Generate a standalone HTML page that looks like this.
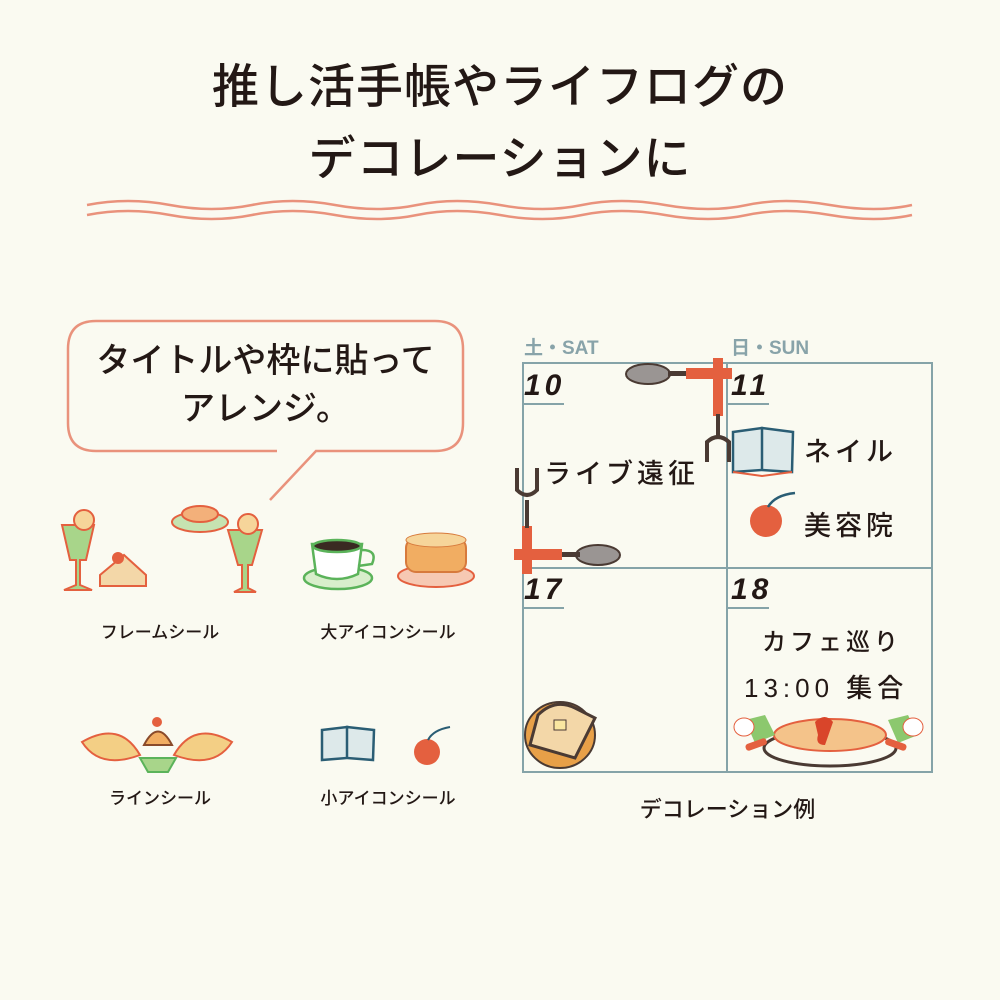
<!DOCTYPE html>
<html><head><meta charset="utf-8"><style>
body{margin:0;background:#fafaf1;}
.p{position:relative;width:1000px;height:1000px;background:#fafaf1;font-family:"Liberation Sans","Noto Sans CJK JP",sans-serif;color:#231815;overflow:hidden}
.t{position:absolute;white-space:nowrap}
.title{left:0;width:1000px;text-align:center;font-size:47px;font-weight:500;letter-spacing:1px}
.lab{font-size:17px;font-weight:500;text-align:center}
.day{font-size:19px;font-weight:bold;color:#88a3a9}
.num{font-size:30px;font-style:italic;font-family:"Liberation Sans",sans-serif;letter-spacing:4px;font-weight:bold}
.hw{font-size:27px;font-weight:500;letter-spacing:4px}
</style></head><body><div class="p">
<div class="t title" style="top:48px">推し活手帳やライフログの</div>
<div class="t title" style="top:120px">デコレーションに</div>
<svg width="1000" height="1000" style="position:absolute;left:0;top:0">
<g fill="none" stroke="#e9927c" stroke-width="2.5">
<path d="M87 205 Q128 197 170 205 T252 205 T335 205 T417 205 T500 205 T582 205 T665 205 T747 205 T830 205 T912 205"/>
<path d="M87 215 Q128 207 170 215 T252 215 T335 215 T417 215 T500 215 T582 215 T665 215 T747 215 T830 215 T912 215"/>
<path d="M277 451 H96 Q68 451 68 423 V349 Q68 321 96 321 H435 Q463 321 463 349 V423 Q463 451 435 451 H316 L270 500"/>
</g>
<g fill="none" stroke="#85a3a8" stroke-width="2">
<rect x="523" y="363" width="409" height="409"/>
<line x1="727" y1="363" x2="727" y2="772"/><line x1="523" y1="568" x2="932" y2="568"/>
<line x1="523" y1="404" x2="564" y2="404"/><line x1="728" y1="404" x2="769" y2="404"/>
<line x1="523" y1="608" x2="564" y2="608"/><line x1="728" y1="608" x2="769" y2="608"/>
</g>
<ellipse cx="648" cy="374" rx="22" ry="10" fill="#9a9593" stroke="#4a3a33" stroke-width="2"/>
<rect x="668" y="371" width="20" height="5" fill="#4a3a33"/>
<rect x="686" y="368" width="46" height="11" fill="#e4603f"/>
<rect x="713" y="358" width="10" height="58" fill="#e4603f"/>
<rect x="716" y="414" width="4" height="24" fill="#4a3a33"/>
<path d="M707 462 V442 Q718 432 729 442 V462" fill="none" stroke="#4a3a33" stroke-width="4"/>
<ellipse cx="598" cy="555" rx="22" ry="10" fill="#9a9593" stroke="#4a3a33" stroke-width="2"/>
<rect x="560" y="552" width="20" height="5" fill="#4a3a33"/>
<rect x="514" y="549" width="48" height="11" fill="#e4603f"/>
<rect x="522" y="526" width="10" height="48" fill="#e4603f"/>
<rect x="525" y="500" width="4" height="28" fill="#4a3a33"/>
<path d="M517 468 V490 Q527 500 537 490 V468" fill="none" stroke="#4a3a33" stroke-width="4"/>
<path d="M733 432 L762 428 L762 470 L733 472 Z M762 428 L793 432 L792 472 L762 470Z" fill="#dde9ea" stroke="#2a5d74" stroke-width="2.5"/>
<path d="M733 472 L762 476 L792 472" fill="none" stroke="#e4603f" stroke-width="2"/>
<circle cx="766" cy="521" r="16" fill="#e4603f"/>
<path d="M768 507 Q775 495 795 493" fill="none" stroke="#2a5d74" stroke-width="2.5"/>
<ellipse cx="560" cy="735" rx="35" ry="33" fill="#e8a048" stroke="#4a3a33" stroke-width="2"/>
<path d="M538 715 Q555 698 575 708 L595 718 L575 758 L530 745Z" fill="#f3d7a8" stroke="#4a3a33" stroke-width="3"/>
<rect x="554" y="720" width="12" height="10" fill="#f9e6a0" stroke="#4a3a33"/>
<ellipse cx="830" cy="748" rx="66" ry="18" fill="none" stroke="#4a3a33" stroke-width="3"/>
<ellipse cx="830" cy="735" rx="56" ry="16" fill="#f4c38a" stroke="#e4603f" stroke-width="2"/>
<path d="M815 722 Q825 712 833 722 L825 745 Q815 745 818 735Z" fill="#d9452a"/>
<path d="M745 720 l20 -5 l10 20 l-20 8z M888 720 l20 -5 l10 20 l-20 8z" fill="#8cc86e"/>
<ellipse cx="744" cy="727" rx="10" ry="9" fill="#fff" stroke="#e4603f"/><ellipse cx="913" cy="727" rx="10" ry="9" fill="#fff" stroke="#e4603f"/>
<rect x="745" y="741" width="22" height="7" rx="3" fill="#e4603f" transform="rotate(-20 756 744)"/>
<rect x="885" y="741" width="22" height="7" rx="3" fill="#e4603f" transform="rotate(20 896 744)"/>
<g stroke="#e4603f" stroke-width="2">
<path d="M62 525 L94 525 L86 560 L80 560 L80 585 L92 590 L64 590 L76 585 L76 560 L70 560Z" fill="#a8d58a"/>
<circle cx="84" cy="520" r="10" fill="#f6d59a"/>
<path d="M100 575 L124 555 L146 575 L146 586 L100 586Z" fill="#f3d7a8"/>
<circle cx="118" cy="558" r="5" fill="#e4603f"/>
<ellipse cx="200" cy="522" rx="28" ry="10" fill="#c6e3b1"/>
<ellipse cx="200" cy="514" rx="18" ry="8" fill="#f3b07a"/>
<path d="M228 530 L262 530 L252 565 L248 565 L248 588 L256 592 L234 592 L242 588 L242 565 L238 565Z" fill="#a8d58a"/>
<circle cx="248" cy="524" r="10" fill="#f6d59a"/>
</g>
<g stroke="#5bb35a" stroke-width="2.5" fill="#fff">
<ellipse cx="338" cy="578" rx="34" ry="11" fill="#d8eecb"/>
<path d="M312 544 L362 544 L358 574 Q337 584 316 574Z"/>
<ellipse cx="337" cy="546" rx="24" ry="6" fill="#3a2a22"/>
<path d="M362 550 Q378 550 372 564 L358 566" fill="none"/>
</g>
<ellipse cx="436" cy="576" rx="38" ry="11" fill="#f6c9b3" stroke="#e4603f" stroke-width="2"/>
<rect x="406" y="538" width="60" height="34" rx="10" fill="#f1ad62" stroke="#d77a3c" stroke-width="2"/>
<ellipse cx="436" cy="540" rx="30" ry="7" fill="#f6d59a" stroke="#d77a3c"/>
<path d="M82 742 Q120 720 140 755 Q100 770 82 742Z M232 742 Q194 720 174 755 Q214 770 232 742Z" fill="#f3cf85" stroke="#e4603f" stroke-width="2"/>
<path d="M140 758 L176 758 L168 772 L148 772Z" fill="#a8d58a" stroke="#5bb35a" stroke-width="2"/>
<path d="M144 745 Q158 718 172 745Z" fill="#f1ad62" stroke="#8a4a2a" stroke-width="2"/>
<circle cx="157" cy="722" r="5" fill="#e4603f"/>
<path d="M322 730 L347 727 L347 758 L322 760Z M347 727 L374 730 L373 760 L347 758Z" fill="#dde9ea" stroke="#2a5d74" stroke-width="2.5"/>
<circle cx="427" cy="752" r="13" fill="#e4603f"/>
<path d="M428 740 Q433 730 450 727" fill="none" stroke="#2a5d74" stroke-width="2"/>
</svg>
<div class="t" style="left:68px;width:395px;text-align:center;top:337px;font-size:34px;font-weight:500;line-height:48px">タイトルや枠に貼って<br>アレンジ。</div>
<div class="t lab" style="left:60px;width:200px;top:618px">フレームシール</div>
<div class="t lab" style="left:288px;width:200px;top:618px">大アイコンシール</div>
<div class="t lab" style="left:60px;width:200px;top:784px">ラインシール</div>
<div class="t lab" style="left:288px;width:200px;top:784px">小アイコンシール</div>
<div class="t day" style="left:524px;top:333px">土・SAT</div>
<div class="t day" style="left:731px;top:333px">日・SUN</div>
<div class="t num" style="left:524px;top:369px">10</div>
<div class="t num" style="left:731px;top:369px">11</div>
<div class="t num" style="left:524px;top:573px">17</div>
<div class="t num" style="left:731px;top:573px">18</div>
<div class="t hw" style="left:544px;top:452px">ライブ遠征</div>
<div class="t hw" style="left:804px;top:430px">ネイル</div>
<div class="t hw" style="left:804px;top:504px">美容院</div>
<div class="t hw" style="left:762px;top:622px;font-size:24px">カフェ巡り</div>
<div class="t hw" style="left:744px;top:668px;font-size:26px;letter-spacing:5px">13:00 集合</div>
<div class="t" style="left:523px;width:409px;text-align:center;top:792px;font-size:22px;font-weight:500">デコレーション例</div>
</div></body></html>
